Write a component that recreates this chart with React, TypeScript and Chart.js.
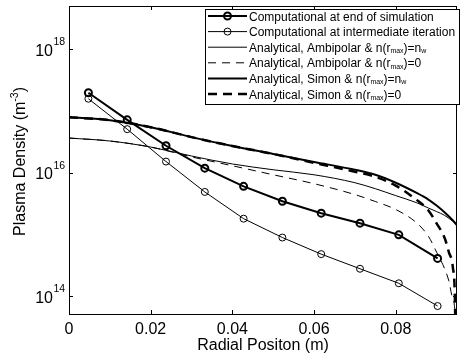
import React, { useEffect, useRef } from "react";
import { Chart, registerables } from "chart.js";
Chart.register(...registerables);

const FONT = '"Liberation Sans", Arial, Helvetica, sans-serif';

// Computational grid (cell centres, m)
const rCells = [0.00475, 0.01425, 0.02375, 0.03325, 0.04275, 0.05225, 0.06175, 0.07125, 0.08075, 0.09025];
const compEnd = [1.97e17, 7.2e16, 2.74e16, 1.19e16, 6.03e15, 3.46e15, 2.22e15, 1.53e15, 9.9e14, 4.12e14];
const compInter = [1.58e17, 5.08e16, 1.52e16, 4.9e15, 1.81e15, 8.96e14, 4.83e14, 2.8e14, 1.63e14, 6.98e13];

// Analytical, wall density n_w
const rWall = [0, 0.01, 0.02, 0.03, 0.04, 0.05, 0.06, 0.07, 0.075, 0.08, 0.085, 0.088, 0.09, 0.092, 0.094, 0.095];
const ambiWall = [3.65e16, 3.27e16, 2.61e16, 1.87e16, 1.39e16, 1.12e16, 9.29e15, 6.91e15, 5.53e15, 4.27e15, 3.3e15, 2.69e15, 2.36e15, 2.04e15, 1.63e15, 1.41e15];
const simonWall = [7.92e16, 7.1e16, 5.47e16, 3.78e16, 2.71e16, 2.02e16, 1.5e16, 1.12e16, 9.29e15, 6.91e15, 4.77e15, 3.69e15, 2.95e15, 2.28e15, 1.7e15, 1.41e15];

// Analytical, zero wall density
const rZero = [0, 0.01, 0.02, 0.03, 0.04, 0.05, 0.06, 0.07, 0.075, 0.08, 0.085, 0.088, 0.09, 0.092, 0.093, 0.094, 0.0945, 0.095];
const ambiZero = [3.65e16, 3.27e16, 2.61e16, 1.81e16, 1.3e16, 9.29e15, 6.66e15, 4.44e15, 3.43e15, 2.55e15, 1.57e15, 9.39e14, 5.2e14, 2.77e14, 1.78e14, 8.81e13, 5.26e13, 1e11];
const simonZero = [7.92e16, 7.1e16, 5.47e16, 3.78e16, 2.71e16, 2.02e16, 1.45e16, 1.04e16, 8.63e15, 6.19e15, 3.69e15, 2.46e15, 1.52e15, 8.71e14, 5.2e14, 2.9e14, 8.2e13, 1e11];

const seriesLabels = [
  "Computational at end of simulation",
  "Computational at intermediate iteration",
  "Analytical, Ambipolar & n(r_max)=n_w",
  "Analytical, Ambipolar & n(r_max)=0",
  "Analytical, Simon & n(r_max)=n_w",
  "Analytical, Simon & n(r_max)=0",
];

const xTicks = [0, 0.02, 0.04, 0.06, 0.08];
const xTickLabels = ["0", "0.02", "0.04", "0.06", "0.08"];
const yTickExps = [14, 16, 18];
const xTitle = "Radial Positon (m)";
const yTitleParts = ["Plasma Density (m", "-3", ")"];

const pts = (xs: number[], ys: number[]) => xs.map((x, i) => ({ x, y: ys[i] }));

function drawParts(ctx: CanvasRenderingContext2D, parts: string[], x: number, y: number, size: number, smallSize: number, shift: number) {
  let cx = x;
  parts.forEach((p, i) => {
    if (!p) return;
    const small = i % 2 === 1;
    ctx.font = `${small ? smallSize : size}px ${FONT}`;
    ctx.fillText(p, cx, small ? y + shift : y);
    cx += ctx.measureText(p).width;
  });
  return cx - x;
}
function measureParts(ctx: CanvasRenderingContext2D, parts: string[], size: number, smallSize: number) {
  let w = 0;
  parts.forEach((p, i) => {
    if (!p) return;
    ctx.font = `${i % 2 === 1 ? smallSize : size}px ${FONT}`;
    w += ctx.measureText(p).width;
  });
  return w;
}

const decor = {
  id: "decor",
  afterDraw(chart: any) {
    const { ctx, chartArea: a, scales } = chart;
    const xs = scales.x, ys = scales.y;
    ctx.save();
    ctx.strokeStyle = "#000";
    ctx.fillStyle = "#000";
    ctx.lineWidth = 1;
    ctx.setLineDash([]);
    ctx.strokeRect(a.left + 0.5, a.top + 0.5, a.right - a.left - 1, a.bottom - a.top - 1);
    const tl = 4;
    ctx.beginPath();
    xTicks.forEach((v) => {
      const px = Math.round(xs.getPixelForValue(v)) + 0.5;
      ctx.moveTo(px, a.bottom - 1); ctx.lineTo(px, a.bottom - 1 - tl);
      ctx.moveTo(px, a.top); ctx.lineTo(px, a.top + tl);
    });
    yTickExps.forEach((e) => {
      const py = Math.round(ys.getPixelForValue(Math.pow(10, e))) + 0.5;
      ctx.moveTo(a.left, py); ctx.lineTo(a.left + tl, py);
      ctx.moveTo(a.right, py); ctx.lineTo(a.right - tl, py);
    });
    ctx.stroke();

    // x tick labels
    ctx.font = `16px ${FONT}`;
    ctx.textAlign = "center";
    ctx.textBaseline = "alphabetic";
    xTicks.forEach((v, i) => ctx.fillText(xTickLabels[i], xs.getPixelForValue(v), 334));
    // x title
    ctx.fillText(xTitle, (a.left + a.right) / 2, 350);

    // y tick labels
    yTickExps.forEach((e) => {
      const py = ys.getPixelForValue(Math.pow(10, e));
      ctx.font = `16px ${FONT}`;
      ctx.textAlign = "right";
      ctx.fillText("10", 53, py + 6.5);
      ctx.font = `10.5px ${FONT}`;
      ctx.textAlign = "left";
      ctx.fillText(String(e), 53.5, py - 4);
    });

    // y title
    ctx.save();
    ctx.translate(25, 161.5);
    ctx.rotate(-Math.PI / 2);
    ctx.textAlign = "left";
    const w = measureParts(ctx, yTitleParts, 16, 10.5);
    drawParts(ctx, yTitleParts, -w / 2, 0, 16, 10.5, -7);
    ctx.restore();

    // legend
    const lx = 205, ly = 9, lw = 254, lh = 95;
    ctx.fillStyle = "#fff";
    ctx.fillRect(lx, ly, lw, lh);
    ctx.strokeStyle = "#000";
    ctx.lineWidth = 1;
    ctx.strokeRect(lx + 0.5, ly + 0.5, lw, lh);
    ctx.fillStyle = "#000";
    ctx.textAlign = "left";
    chart.data.datasets.forEach((ds: any, i: number) => {
      const ry = 16 + i * 15.6;
      ctx.strokeStyle = "#000";
      ctx.lineWidth = ds.borderWidth;
      ctx.setLineDash(ds.borderDash || []);
      ctx.beginPath();
      ctx.moveTo(208, ry); ctx.lineTo(247, ry);
      ctx.stroke();
      ctx.setLineDash([]);
      if (ds.pointRadius > 0) {
        ctx.lineWidth = ds.pointBorderWidth;
        ctx.beginPath();
        ctx.arc(227.5, ry, ds.pointRadius, 0, Math.PI * 2);
        ctx.stroke();
      }
      const parts = seriesLabels[i].split(/_([a-z]+)/);
      drawParts(ctx, parts, 249, ry + 4.5, 12, 7, 1.5);
    });
    ctx.restore();
  },
};

export default function App() {
  const ref = useRef<HTMLCanvasElement>(null);
  useEffect(() => {
    const common = { borderColor: "#000", backgroundColor: "rgba(0,0,0,0)", showLine: true, fill: false };
    const chart = new Chart(ref.current as HTMLCanvasElement, {
      type: "scatter",
      data: {
        datasets: [
          { ...common, label: seriesLabels[0], data: pts(rCells, compEnd), borderWidth: 2, pointRadius: 3.5, pointBorderWidth: 2, pointBorderColor: "#000", pointBackgroundColor: "rgba(0,0,0,0)", tension: 0 },
          { ...common, label: seriesLabels[1], data: pts(rCells, compInter), borderWidth: 1, pointRadius: 3.5, pointBorderWidth: 1, pointBorderColor: "#000", pointBackgroundColor: "rgba(0,0,0,0)", tension: 0 },
          { ...common, label: seriesLabels[2], data: pts(rWall, ambiWall), borderWidth: 1, pointRadius: 0, cubicInterpolationMode: "monotone" },
          { ...common, label: seriesLabels[3], data: pts(rZero, ambiZero), borderWidth: 1, borderDash: [8, 6], pointRadius: 0, cubicInterpolationMode: "monotone" },
          { ...common, label: seriesLabels[4], data: pts(rWall, simonWall), borderWidth: 2, pointRadius: 0, cubicInterpolationMode: "monotone" },
          { ...common, label: seriesLabels[5], data: pts(rZero, simonZero), borderWidth: 2.5, borderDash: [9, 6], pointRadius: 0, cubicInterpolationMode: "monotone" },
        ] as any,
      },
      options: {
        responsive: false,
        animation: false,
        devicePixelRatio: 1,
        layout: { padding: { top: 2, right: 0, left: 0, bottom: 0 } },
        plugins: { legend: { display: false }, tooltip: { enabled: false } },
        events: [],
        scales: {
          x: {
            type: "linear", min: 0, max: 0.095,
            ticks: { display: false }, grid: { display: false }, border: { display: false },
            afterFit: (s: any) => { s.height = 48; },
          },
          y: {
            type: "logarithmic", min: 5e13, max: 5e18,
            ticks: { display: false }, grid: { display: false }, border: { display: false },
            afterFit: (s: any) => { s.width = 69; },
          },
        },
      } as any,
      plugins: [decor],
    });
    return () => chart.destroy();
  }, []);
  return (
    <div style={{ position: "absolute", left: 0, top: 0, width: 463, height: 363, background: "#fff" }}>
      <canvas ref={ref} width={463} height={363} style={{ display: "block" }} />
    </div>
  );
}
